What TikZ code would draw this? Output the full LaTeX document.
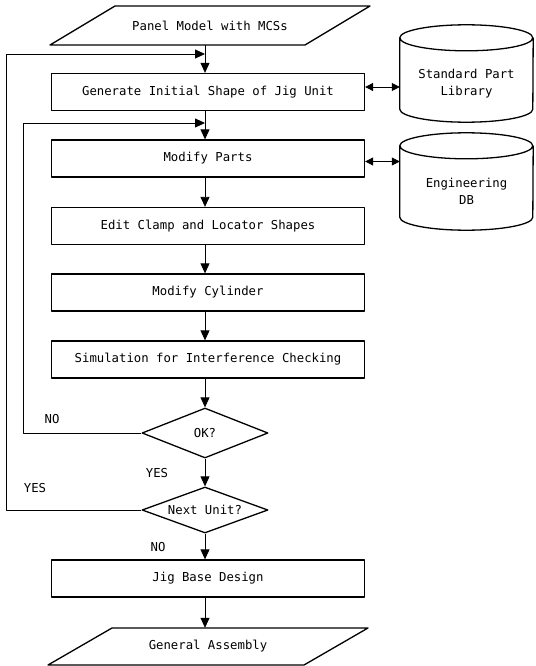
\documentclass[tikz,border=0pt]{standalone}
\usepackage{fontspec}
\setmainfont{DejaVu Sans Mono}
\usetikzlibrary{arrows.meta,shapes.geometric,calc}

\begin{document}
\begin{tikzpicture}[x=1pt,y=-1pt,line join=round,
  font=\fontsize{12.3}{15}\selectfont,
  proc/.style={draw,line width=1.3pt,minimum width=313pt,minimum height=37pt,inner sep=0pt},
  io/.style={minimum width=255pt,minimum height=39pt,inner sep=0pt},
  dec/.style={draw,line width=1.3pt,diamond,aspect=2.6,minimum width=126pt,inner sep=0pt},
  store/.style={minimum width=133pt,minimum height=97pt,inner sep=0pt},
  flow/.style={line width=0.8pt,-{Triangle[length=10pt,width=9pt]}},
  both/.style={line width=0.8pt,{Triangle[length=8pt,width=8pt]}-{Triangle[length=8pt,width=8pt]}}]
  \useasboundingbox (0,0) rectangle (535,666);
  % main column
  \node[io] (panel) at (210,25.5) {Panel Model with MCSs};
  \node[proc] (gen) at (208,92) {Generate Initial Shape of Jig Unit};
  \node[proc] (modp) at (208,158.5) {Modify Parts};
  \node[proc] (edit) at (208,226) {Edit Clamp and Locator Shapes};
  \node[proc] (modc) at (208,292.5) {Modify Cylinder};
  \node[proc] (sim) at (208,359.5) {Simulation for Interference Checking};
  \node[dec,minimum height=50pt] (ok) at (205,433) {OK?};
  \node[dec,minimum height=46pt] (nextu) at (205,510) {Next Unit?};
  \node[proc] (base) at (208,578.5) {Jig Base Design};
  \node[io,minimum height=37pt] (assy) at (208,646.5) {General Assembly};
  % in/out parallelograms
  \coordinate (P1) at (50,45);
  \coordinate (P2) at (115,6);
  \coordinate (P3) at (370,6);
  \coordinate (P4) at (305,45);
  \coordinate (Q1) at (48,665);
  \coordinate (Q2) at (112,628);
  \coordinate (Q3) at (368,628);
  \coordinate (Q4) at (304,665);
  \draw[line width=1.3pt] (P1)--(P2)--(P3)--(P4)--cycle;
  \draw[line width=1.3pt] (Q1)--(Q2)--(Q3)--(Q4)--cycle;
  % data stores
  \node[store,label={[align=center,yshift=-10pt,font=\fontsize{12.3}{17}\selectfont]center:Standard Part\\Library}] (lib) at (466.5,73.5) {};
  \node[store,label={[align=center,yshift=-10pt,font=\fontsize{12.3}{17}\selectfont]center:Engineering\\DB}] (edb) at (466.5,181.5) {};
  \foreach \n in {lib,edb}
    \draw[line width=1.3pt] ([yshift=-13pt]\n.north west)
      arc[start angle=180,end angle=360,x radius=66.5pt,y radius=13pt]
      arc[start angle=0,end angle=180,x radius=66.5pt,y radius=13pt]
      -- ([yshift=13pt]\n.south west)
      arc[start angle=180,end angle=360,x radius=66.5pt,y radius=13pt]
      -- ([yshift=-13pt]\n.north east);
  \coordinate (back1) at (205,54);
  \coordinate (back2) at (205,123);
  \draw[flow] (panel.south -| ok) -- (gen.north -| ok);
  \draw[flow] (gen.south -| ok) -- (modp.north -| ok);
  \draw[flow] (modp.south -| ok) -- (edit.north -| ok);
  \draw[flow] (edit.south -| ok) -- (modc.north -| ok);
  \draw[flow] (modc.south -| ok) -- (sim.north -| ok);
  \draw[flow] (sim.south -| ok) -- (ok);
  \draw[flow] (ok) -- (nextu);
  \draw[flow] (nextu) -- (base.north -| nextu);
  \draw[flow] (base.south -| nextu) -- (assy.north -| nextu);
  \draw[flow] (ok.west) -- ++(-118,0) |- (back2);
  \draw[flow] (nextu.west) -- ++(-135,0) |- (back1);
  \draw[both] ([yshift=5pt]gen.east) -- ([yshift=5pt]gen.east -| lib.west);
  \draw[both] ([yshift=-3pt]modp.east) -- ([yshift=-3pt]modp.east -| edb.west);
  \node (no1) at (52,419) {NO};
  \node (yes1) at (157,473) {YES};
  \node (yes2) at (35,488) {YES};
  \node (no2) at (158,547) {NO};
\end{tikzpicture}
\end{document}
